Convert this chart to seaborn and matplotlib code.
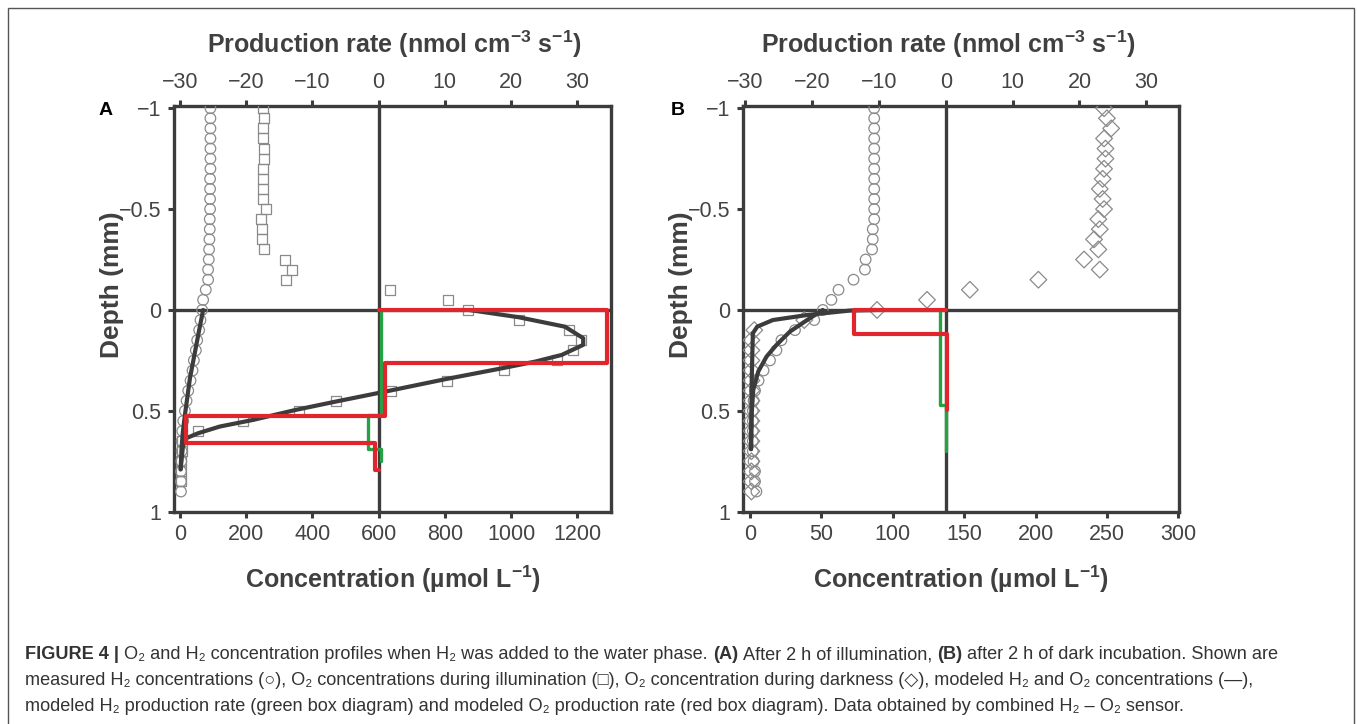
import numpy as np, pandas as pd, matplotlib
matplotlib.use('Agg')
import matplotlib.pyplot as plt
from matplotlib.patches import Rectangle
import seaborn as sns

# ---------------- panel A : after 2 h illumination ----------------
a_h2_depth = [-1.0, -0.95, -0.9, -0.85, -0.8, -0.75, -0.7, -0.65, -0.6, -0.55, -0.5, -0.45, -0.4,
              -0.35, -0.3, -0.25, -0.2, -0.15, -0.1, -0.05, 0.0, 0.05, 0.1, 0.15, 0.2, 0.25, 0.3,
              0.35, 0.4, 0.45, 0.5, 0.55, 0.6, 0.65, 0.7, 0.75, 0.8, 0.85, 0.9]
a_h2_conc = [92, 92, 92, 92, 92, 92, 92, 91, 91, 91, 91, 90, 90,
             89, 88, 87, 85, 85, 78, 70, 67, 62, 58, 52, 48, 42, 38,
             32, 25, 20, 15, 10, 7, 5, 5, 4, 3, 3, 3]
a_o2_depth = [-1.0, -0.95, -0.9, -0.85, -0.8, -0.75, -0.7, -0.65, -0.6, -0.55, -0.5, -0.45, -0.4,
              -0.35, -0.3, -0.25, -0.2, -0.15, -0.1, -0.05, 0.0, 0.05, 0.1, 0.15, 0.2, 0.25, 0.3,
              0.35, 0.4, 0.45, 0.5, 0.55, 0.6, 0.65, 0.7, 0.75, 0.8, 0.85]
a_o2_conc = [252, 254, 252, 250, 254, 253, 251, 252, 252, 251, 259, 246, 249,
             247, 253, 318, 338, 320, 633, 810, 870, 1023, 1176, 1210, 1186, 1138, 978,
             807, 637, 471, 359, 191, 55, 6, 5, 4, 4, 3]
a_mod_h2_conc = [70, 58, 44, 30, 15, 9, 5, 2]
a_mod_h2_depth = [0.0, 0.1, 0.22, 0.34, 0.52, 0.6, 0.68, 0.79]
a_mod_o2_conc = [873, 1023, 1163, 1218, 1218, 1153, 1073, 973, 802, 622, 471, 351, 221, 120, 55, 20, 10, 2]
a_mod_o2_depth = [0.0, 0.036, 0.083, 0.14, 0.173, 0.223, 0.256, 0.289, 0.343, 0.404, 0.454, 0.495,
                  0.545, 0.578, 0.611, 0.635, 0.66, 0.79]
# production rates (nmol cm-3 s-1), box diagrams
a_o2_rate = [0, 34.5, 34.5, 1.0, 1.0, -29.1, -29.1, -0.6, -0.6, 0.1]
a_o2_rate_depth = [0, 0, 0.264, 0.264, 0.528, 0.528, 0.657, 0.657, 0.795, 0.795]
a_h2_rate = [0.3, 0.3, -1.6, -1.6, 0.3, 0.3]
a_h2_rate_depth = [0, 0.52, 0.52, 0.69, 0.69, 0.75]

# ---------------- panel B : after 2 h darkness ----------------
b_h2_depth = a_h2_depth
b_h2_conc = [87, 87, 87, 87, 87, 87, 87, 87, 87, 87, 87, 87, 86,
             86, 85.5, 81, 80.5, 72.5, 62, 57, 51, 45, 31.5, 22, 18.5, 14, 9.5,
             6, 3.5, 2.5, 2, 2, 2, 2, 2, 2.5, 3.5, 3.5, 4.5]
b_o2_depth = [-1.0, -0.95, -0.9, -0.85, -0.8, -0.75, -0.7, -0.65, -0.6, -0.55, -0.5, -0.45, -0.4,
              -0.35, -0.3, -0.25, -0.2, -0.15, -0.1, -0.05, 0.0, 0.05, 0.1, 0.15, 0.2, 0.25,
              0.3, 0.35, 0.4, 0.45, 0.5, 0.55, 0.6, 0.65, 0.7, 0.75, 0.8, 0.85, 0.9]
b_o2_conc = [248, 250, 253, 248, 249, 249, 248, 247, 245, 247, 248, 244, 245,
             241, 244, 234, 245, 202, 154, 124, 89, 38, 3, 1, 1, 1,
             1, 1, 1, 1, 1, 1, 1, 1, 1, 1, 1, 1, 1]
b_mod_o2_conc = [88, 70, 40, 16, 5, 2, 1.2, 0.7]
b_mod_o2_depth = [0.0, 0.003, 0.025, 0.05, 0.083, 0.116, 0.35, 0.69]
b_mod_h2_conc = [51, 40, 28, 18.6, 11.6, 5.8, 2.3, 1.2, 0.7]
b_mod_h2_depth = [0.0, 0.05, 0.107, 0.173, 0.231, 0.305, 0.396, 0.512, 0.69]
b_o2_rate = [0, -13.8, -13.8, 0.1, 0.1]
b_o2_rate_depth = [0, 0, 0.119, 0.119, 0.495]
b_h2_rate = [-0.9, -0.9, 0.0, 0.0]
b_h2_rate_depth = [0, 0.47, 0.47, 0.70]

depth_ticks = [-1, -0.5, 0, 0.5, 1]
depth_labels = ['\u22121', '\u22120.5', '0', '0.5', '1']
rate_ticks = [-30, -20, -10, 0, 10, 20, 30]
a_conc_ticks = [0, 200, 400, 600, 800, 1000, 1200]
b_conc_ticks = [0, 50, 100, 150, 200, 250, 300]

cap_lines = [
    [('FIGURE 4 |', True), ('O\u2082 and H\u2082 concentration profiles when H\u2082 was added to the water phase.', False),
     ('(A)', True), ('After 2 h of illumination,', False), ('(B)', True),
     ('after 2 h of dark incubation. Shown are', False)],
    [('measured H\u2082 concentrations (\u25cb), O\u2082 concentrations during illumination (\u25a1), '
      'O\u2082 concentration during darkness (\u25c7), modeled H\u2082 and O\u2082 concentrations (\u2014),', False)],
    [('modeled H\u2082 production rate (green box diagram) and modeled O\u2082 production rate '
      '(red box diagram). Data obtained by combined H\u2082 \u2013 O\u2082 sensor.', False)],
]

sns.set_theme(style='ticks')
plt.rcParams['font.family'] = ['Liberation Sans', 'DejaVu Sans']
plt.rcParams['mathtext.default'] = 'regular'

W, H = 1357, 724
DARK = '#3c3c3c'; TXT = '#444444'; RED = '#e0262c'; GREEN = '#25a244'; MK = '#8a8a8a'
fig = plt.figure(figsize=(W / 100, H / 100), dpi=100)
fig.patches.append(Rectangle((8 / W, -0.05), (1354 - 8) / W, 1.05 - 8 / H, transform=fig.transFigure,
                             fill=False, edgecolor='#555555', lw=1.0))


def panel(left, right, xlim, zero_conc, per_rate, conc_ticks, h2, o2, o2_marker, mods, o2r, h2r):
    ax = fig.add_axes([left / W, (H - 512) / H, (right - left) / W, (512 - 106) / H])
    sns.scatterplot(x=h2[1], y=h2[0], ax=ax, marker='o', s=58, facecolors='none', edgecolor=MK, linewidth=0.9, zorder=3)
    sns.scatterplot(x=o2[1], y=o2[0], ax=ax, marker=o2_marker, s=52 if o2_marker == 's' else 72,
                    facecolors='none', edgecolor=MK, linewidth=0.9, zorder=3)
    ax.axhline(0, color=DARK, lw=2.4, zorder=2)
    for mx, my in mods:
        sns.lineplot(x=mx, y=my, ax=ax, sort=False, estimator=None, color=DARK, lw=3.0, zorder=4)
    ax.set_xlim(*xlim)
    ax.set_ylim(1.0015, -1.011)
    ax.set_yticks(depth_ticks, depth_labels)
    ax.set_xticks(conc_ticks)
    ax.set_xlabel(''); ax.set_ylabel('')
    for s in ax.spines.values():
        s.set_visible(True); s.set_color(DARK); s.set_linewidth(2.4)
    ax.tick_params(direction='out', length=4, width=2.2, color=DARK, labelsize=15.5,
                   labelcolor=TXT, pad=5)
    # production-rate axis on top
    at = ax.twiny()
    at.set_xlim((xlim[0] - zero_conc) / per_rate, (xlim[1] - zero_conc) / per_rate)
    at.axvline(0, color=DARK, lw=2.4, zorder=1)
    sns.lineplot(x=h2r[0], y=h2r[1], ax=at, sort=False, estimator=None, color=GREEN, lw=2.4, zorder=5)
    sns.lineplot(x=o2r[0], y=o2r[1], ax=at, sort=False, estimator=None, color=RED, lw=3.0, zorder=6)
    at.set_xlim((xlim[0] - zero_conc) / per_rate, (xlim[1] - zero_conc) / per_rate)
    at.set_xticks(rate_ticks)
    at.set_xlabel(''); at.set_ylabel('')
    for s in at.spines.values():
        s.set_visible(False)
    at.tick_params(axis='x', direction='out', length=4, width=2.2, color=DARK, labelsize=15.5,
                   labelcolor=TXT, pad=5)
    ax.set_ylim(1.0015, -1.011)
    return ax


panel(174, 611, (-18, 1302), 600, 20, a_conc_ticks,
      (a_h2_depth, a_h2_conc), (a_o2_depth, a_o2_conc), 's',
      [(a_mod_h2_conc, a_mod_h2_depth), (a_mod_o2_conc, a_mod_o2_depth)],
      (a_o2_rate, a_o2_rate_depth), (a_h2_rate, a_h2_rate_depth))
panel(743, 1179, (-4.9, 300.5), 137.2, 4.68, b_conc_ticks,
      (b_h2_depth, b_h2_conc), (b_o2_depth, b_o2_conc), 'D',
      [(b_mod_o2_conc, b_mod_o2_depth), (b_mod_h2_conc, b_mod_h2_depth)],
      (b_o2_rate, b_o2_rate_depth), (b_h2_rate, b_h2_rate_depth))

lab = dict(fontsize=18, fontweight='bold', color='#404040')
for cx_top, cx_bot, dx, letter, lx in [(394, 393, 112, 'A', 105.5), (948, 961, 681, 'B', 677.5)]:
    fig.text(cx_top / W, 1 - 53 / H, 'Production rate (nmol cm$^{-3}$ s$^{-1}$)', ha='center', va='baseline', **lab)
    fig.text(cx_bot / W, 1 - 588 / H, 'Concentration (\u00b5mol L$^{-1}$)', ha='center', va='baseline', **lab)
    fig.text(dx / W, 1 - 285 / H, 'Depth (mm)', rotation=90, ha='center', va='center',
             fontsize=19, fontweight='bold', color='#404040')
    fig.text(lx / W, 1 - 115 / H, letter, ha='center', va='baseline', fontsize=14, fontweight='bold', color='black')

# caption with mixed bold / regular runs
fam = ['Liberation Sans', 'DejaVu Sans']
rend = fig.canvas.get_renderer()
csize = 13.1
t1 = fig.text(0, 0, 'a a', fontsize=csize, family=fam); t2 = fig.text(0, 0, 'aa', fontsize=csize, family=fam)
space = t1.get_window_extent(rend).width - t2.get_window_extent(rend).width
t1.remove(); t2.remove()
for line, base in zip(cap_lines, [659, 685, 711]):
    x = 25
    for txt, bold in line:
        t = fig.text(x / W, 1 - base / H, txt, fontsize=csize, family=fam, color='#333333',
                     fontweight='bold' if bold else 'normal', ha='left', va='baseline')
        x += t.get_window_extent(rend).width + space

fig.savefig('out.png', dpi=100)
